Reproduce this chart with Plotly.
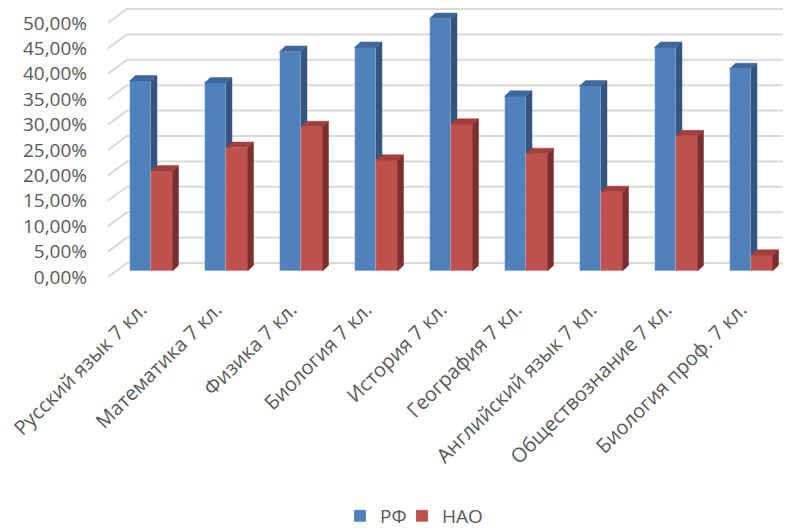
import plotly.graph_objects as go

categories = ["Русский язык 7 кл.", "Математика 7 кл.", "Физика 7 кл.", "Биология 7 кл.",
              "История 7 кл.", "География 7 кл.", "Английский язык 7 кл.",
              "Обществознание 7 кл.", "Биология проф. 7 кл."]
rf_values = [0.374, 0.370, 0.432, 0.440, 0.497, 0.344, 0.364, 0.440, 0.398]
nao_values = [0.197, 0.243, 0.284, 0.218, 0.289, 0.231, 0.156, 0.266, 0.031]
tick_values = [i * 0.05 for i in range(11)]
series_names = ["РФ", "НАО"]

# ---- geometry (pixel-based styling constants, in page pixels) ----
OFF = 8                      # default page body margin
W_PX, H_PX = 791 - OFF, 531 - OFF
PLOT_L, PLOT_R, PLOT_T, PLOT_B = 100, 791, 8, 290
CAT0_PX, CAT_STEP = 151.0, 75.0          # category 0 centre, spacing
FRONT_BASE, FLOOR_BASE, PX_PER_UNIT = 271.0, 277.0, 508.0
PXU = 1.0 / CAT_STEP       # category units per pixel
PYU = 1.0 / PX_PER_UNIT    # value units per pixel
BAR_W = 21.5 * PXU
DX, DY = 6 * PXU, 5.5 * PYU   # bar depth offset
WALL_DX, WALL_DY = 19 * PXU, 14 * PYU

def px_to_cat(p):
    return (p - CAT0_PX) / CAT_STEP

x_range = [px_to_cat(PLOT_L), px_to_cat(PLOT_R)]
y_front_range = [(FRONT_BASE - PLOT_B) / PX_PER_UNIT, (FRONT_BASE - PLOT_T) / PX_PER_UNIT]
y_floor_range = [(FLOOR_BASE - PLOT_B) / PX_PER_UNIT, (FLOOR_BASE - PLOT_T) / PX_PER_UNIT]

GRID = "#D9D9D9"
TXT = "#595959"
FONT = "Open Sans"

fig = go.Figure()

# gridlines: left floor diagonal + back wall
gx, gy = [], []
left_front = px_to_cat(108)
for v in tick_values:
    gx += [left_front, left_front + WALL_DX, px_to_cat(820), None]
    gy += [v, v + WALL_DY, v + WALL_DY, None]
fig.add_trace(go.Scatter(x=gx, y=gy, mode="lines", line=dict(color=GRID, width=2),
                         hoverinfo="skip", showlegend=False, xaxis="x", yaxis="y"))

styles = [
    dict(front="#4F81BD", side="#34557F", top="#3E679B", offset=-BAR_W, axis="y2", legend="legend"),
    dict(front="#C0504D", side="#7E2F2D", top="#A03F3C", offset=0.0, axis="y3", legend="legend2"),
]

for name, vals, st in zip(series_names, [rf_values, nao_values], styles):
    xs = list(range(len(categories)))
    fig.add_trace(go.Bar(x=xs, y=vals, name=name, width=BAR_W, offset=st["offset"],
                         marker=dict(color=st["front"], line=dict(width=0.6, color="rgba(255,255,255,0.35)")),
                         yaxis=st["axis"], xaxis="x", hoverinfo="skip", legend=st["legend"]))
    sx, sy, tx, ty = [], [], [], []
    for i, v in zip(xs, vals):
        x0 = i + st["offset"]
        x1 = x0 + BAR_W
        sx += [x1, x1, x1 + DX, x1 + DX, x1, None]
        sy += [0, v, v + DY, DY, 0, None]
        tx += [x0, x1, x1 + DX, x0 + DX, x0, None]
        ty += [v, v, v + DY, v + DY, v, None]
    fig.add_trace(go.Scatter(x=sx, y=sy, mode="lines", fill="toself", fillcolor=st["side"],
                             line=dict(width=0.5, color=st["side"]), hoverinfo="skip",
                             showlegend=False, xaxis="x", yaxis=st["axis"]))
    fig.add_trace(go.Scatter(x=tx, y=ty, mode="lines", fill="toself", fillcolor=st["top"],
                             line=dict(width=0.5, color=st["top"]), hoverinfo="skip",
                             showlegend=False, xaxis="x", yaxis=st["axis"]))

legend_common = dict(orientation="h", xref="container", yref="container",
                     xanchor="left", yanchor="middle", y=1 - (516 - OFF) / H_PX,
                     font=dict(size=19, color=TXT, family=FONT), bgcolor="rgba(0,0,0,0)")

fig.update_layout(
    width=W_PX, height=H_PX,
    margin=dict(l=PLOT_L - OFF, r=791 - PLOT_R, t=PLOT_T - OFF, b=531 - PLOT_B, autoexpand=False),
    paper_bgcolor="white", plot_bgcolor="white",
    separators=", ",
    font=dict(family=FONT, size=19, color=TXT),
    xaxis=dict(range=x_range, tickvals=list(range(len(categories))), ticktext=categories,
               tickangle=-45, showgrid=False, zeroline=False, showline=False, ticks="",
               automargin=False, ticklabelshift=-10, ticklabelstandoff=3,
               ticklabeloverflow="allow",
               tickfont=dict(size=20, color=TXT, family=FONT)),
    yaxis=dict(range=y_floor_range, tickvals=tick_values, tickformat=".2%",
               showgrid=False, zeroline=False, showline=False, ticks="",
               automargin=False, ticklabelstandoff=12, ticklabeloverflow="allow",
               tickfont=dict(size=19, color=TXT, family=FONT)),
    yaxis2=dict(range=y_front_range, overlaying="y", visible=False),
    yaxis3=dict(range=y_front_range, overlaying="y", visible=False),
    showlegend=True,
    legend=dict(legend_common, x=(340 - OFF) / W_PX),
    legend2=dict(legend_common, x=(402 - OFF) / W_PX),
    bargap=0,
)

fig.write_html("out.html")
